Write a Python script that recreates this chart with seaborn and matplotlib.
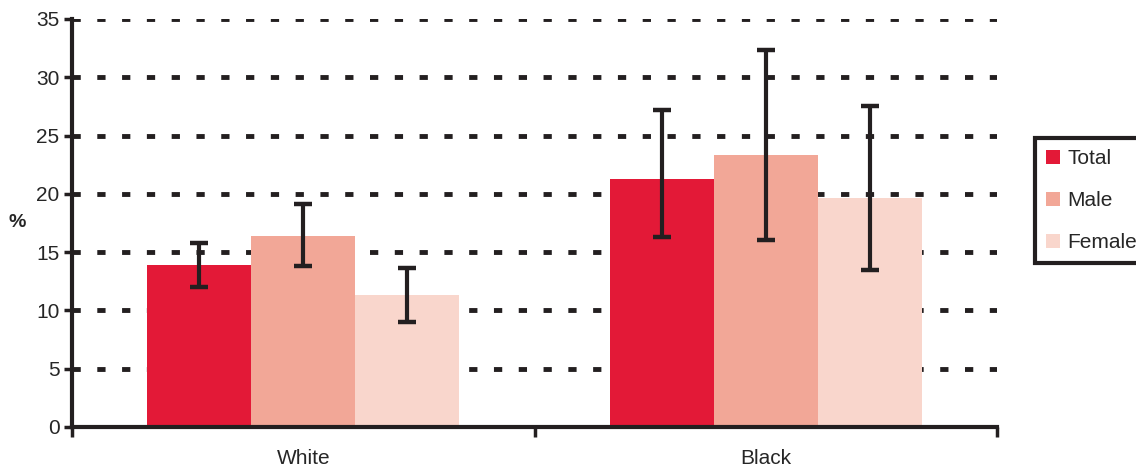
import pandas as pd
import matplotlib.pyplot as plt
import seaborn as sns

# Dados
grupos = ['White', 'Black']
series = ['Total', 'Male', 'Female']
valores = {
    'Total': [13.9, 21.3],
    'Male': [16.4, 23.3],
    'Female': [11.3, 19.6],
}
erro_inf = {
    'Total': [12.0, 16.3],
    'Male': [13.8, 16.0],
    'Female': [9.0, 13.5],
}
erro_sup = {
    'Total': [15.8, 27.2],
    'Male': [19.1, 32.3],
    'Female': [13.6, 27.5],
}
cores = ['#e31937', '#f2a797', '#f9d6cc']
cor_linha = '#231f20'

linhas = []
for s in series:
    for i, g in enumerate(grupos):
        linhas.append({'grupo': g, 'serie': s, 'valor': valores[s][i],
                       'lo': erro_inf[s][i], 'hi': erro_sup[s][i]})
df = pd.DataFrame(linhas)

sns.set_style('white')
plt.rcParams['font.family'] = ['Liberation Sans', 'DejaVu Sans']

fig = plt.figure(figsize=(11.36, 4.69), dpi=100)
ax = fig.add_axes([0.0634, 0.0896, 0.8143, 0.87])

sns.barplot(data=df, x='grupo', y='valor', hue='serie', order=grupos,
            hue_order=series, palette=cores, width=0.675, gap=0,
            saturation=1, errorbar=None, ax=ax, linewidth=0)

# Barras de erro nas posições das barras
for patch, (_, r) in zip(ax.patches, df.iterrows()):
    cx = patch.get_x() + patch.get_width() / 2
    ax.errorbar(cx, r['valor'], yerr=[[r['valor'] - r['lo']], [r['hi'] - r['valor']]],
                fmt='none', ecolor=cor_linha, elinewidth=3, capsize=6.5, capthick=3.2, zorder=5)

ax.set_ylim(0, 35)
ax.set_xlim(-0.5, 1.5)
ax.set_yticks(range(0, 36, 5))
for y in range(5, 36, 5):
    ax.axhline(y, color=cor_linha, lw=3.5, ls=(0, (1.7, 3.4)), zorder=0.5)

ax.set_xticks([-0.5, 0.5, 1.5])
ax.set_xticklabels([])
ax.set_xticks([0, 1], minor=True)
ax.set_xticklabels(grupos, minor=True, fontsize=15)
ax.tick_params(axis='x', which='minor', length=0, pad=16)
ax.tick_params(axis='x', which='major', direction='out', length=7, width=2.5, color=cor_linha)
ax.tick_params(axis='y', direction='out', length=6, width=2.5, color=cor_linha, labelsize=15, pad=3)
ax.yaxis.set_ticks_position('left')
ax.xaxis.set_ticks_position('bottom')

ax.set_xlabel('')
ax.set_ylabel('%', rotation=0, fontsize=14, fontweight='bold', labelpad=14, va='center')

sns.despine(ax=ax)
for lado in ['left', 'bottom']:
    ax.spines[lado].set_linewidth(3)
    ax.spines[lado].set_color(cor_linha)

leg = ax.legend(title=None, loc='center left', bbox_to_anchor=(1.041, 0.555), fontsize=15,
                frameon=True, fancybox=False, framealpha=1, handlelength=0.65, handleheight=0.65,
                handletextpad=0.35, labelspacing=1.1, borderpad=0.55, borderaxespad=0)
leg.get_frame().set_edgecolor(cor_linha)
leg.get_frame().set_linewidth(3)

fig.savefig('out.png', dpi=100)
